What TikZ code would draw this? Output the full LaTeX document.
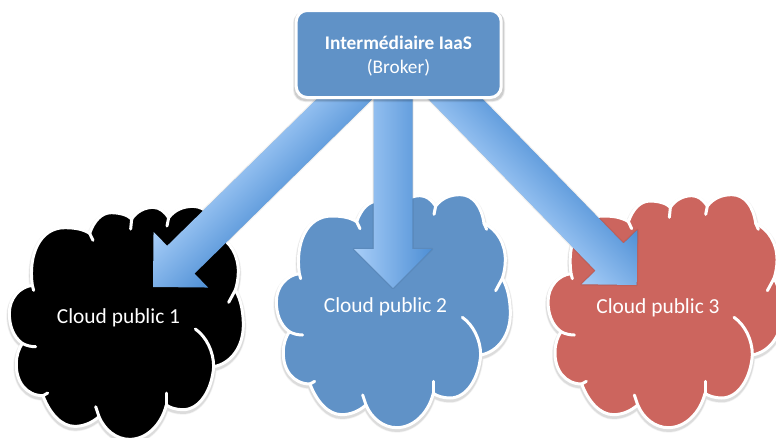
\documentclass[tikz,border=0pt]{standalone}
\usepackage{fontspec}
\setmainfont{Carlito}
\usetikzlibrary{calc}
\definecolor{bluefill}{HTML}{6092C7}
\definecolor{redfill}{HTML}{CC655E}
\definecolor{arrowlight}{HTML}{A8CEF8}
\definecolor{arrowdark}{HTML}{4E8FD5}
\def\cloudpath{(118,281)
 .. controls (105,190) and (140,108) .. (215,108)
 .. controls (245,108) and (270,112) .. (290,125)
 .. controls (303,88) and (325,63) .. (355,63)
 .. controls (380,63) and (405,70) .. (416,82)
 .. controls (430,60) and (455,47) .. (480,47)
 .. controls (500,47) and (515,60) .. (527,78)
 .. controls (545,55) and (570,44) .. (600,44)
 .. controls (640,44) and (665,80) .. (672,130)
 .. controls (712,150) and (736,190) .. (736,240)
 .. controls (736,260) and (732,280) .. (727,295)
 .. controls (745,325) and (751,365) .. (751,400)
 .. controls (751,465) and (715,515) .. (662,525)
 .. controls (657,595) and (620,654) .. (570,654)
 .. controls (550,654) and (530,648) .. (520,640)
 .. controls (505,700) and (460,743) .. (410,743)
 .. controls (370,743) and (335,715) .. (318,675)
 .. controls (295,695) and (270,704) .. (245,704)
 .. controls (205,704) and (170,665) .. (150,612)
 .. controls (100,612) and (68,570) .. (70,515)
 .. controls (70,490) and (78,470) .. (88,455)
 .. controls (60,435) and (49,400) .. (49,365)
 .. controls (49,320) and (80,285) .. (118,281) -- cycle}
\newcommand{\cloudshape}[2]{%
 \begin{scope}[shift={#1},x=0.33333pt,y=-0.33333pt]
  \begin{scope}[yshift=-2pt]
   \draw[black,opacity=.05,line width=6pt,line join=round] \cloudpath;
   \draw[black,opacity=.09,line width=4.5pt,line join=round] \cloudpath;
  \end{scope}
  \fill[#2] \cloudpath;
  \draw[cloudline] \cloudpath;
  \draw[cloudline] (118,281) -- (122,296);
  \draw[cloudline] (290,125) -- (300,146);
  \draw[cloudline] (416,82) -- (413,112);
  \draw[cloudline] (527,78) -- (522,103);
  \draw[cloudline] (672,130) -- (680,148);
  \draw[cloudline] (727,295) -- (707,332);
  \draw[cloudline] (607,412) .. controls (640,435) and (662,480) .. (662,525);
  \draw[cloudline] (520,640) -- (520,604);
  \draw[cloudline] (318,675) -- (308,645);
  \draw[cloudline] (150,612) -- (164,604);
  \draw[cloudline] (88,455) .. controls (100,462) and (115,465) .. (128,465);
 \end{scope}}
\def\arrowshape{(0,0) -- (39pt,39pt) -- (39pt,19.5pt) -- (\arrlen,19.5pt) -- (\arrlen,-19.5pt) -- (39pt,-19.5pt) -- (39pt,-39pt) -- cycle}
\newcommand{\fatarrow}[2]{%
 \path let \p1=($(#1)-(#2)$), \n1={atan2(\y1,\x1)}, \n2={veclen(\x1,\y1)} in
  \pgfextra{\xdef\arrang{\n1}\xdef\arrlen{\n2}};
 \begin{scope}[yshift=-1.5pt,shift={(#2)},rotate=\arrang]
  \draw[black,opacity=.05,line width=2.5pt,line join=round] \arrowshape;
  \fill[black,opacity=.22] \arrowshape;
 \end{scope}
 \begin{scope}[transform canvas={shift={(#2)},rotate=\arrang}]
  \path[top color=arrowlight,bottom color=arrowdark,middle color=arrowlight!50!arrowdark] \arrowshape;
 \end{scope}}
\tikzset{
 cloudline/.style={draw=white,line width=3pt,line cap=round,line join=round},
 cloudtext/.style={text=white,font=\fontsize{21.4}{25}\selectfont,inner sep=0pt},
 brokerbox/.style={fill=bluefill,draw=white,line width=3pt,rounded corners=11pt,minimum width=205pt,minimum height=87pt,inner sep=0pt}
}
\begin{document}
\begin{tikzpicture}[x=1pt,y=-1pt]
\useasboundingbox (0,0) rectangle (776,437);
\clip (0,0) rectangle (776,437);
\fill[white] (0,0) rectangle (776,437);
\cloudshape{(-7,191.7)}{black}
\cloudshape{(260,180)}{bluefill}
\cloudshape{(531.7,180)}{redfill}
\node[cloudtext] (cloud1) at (118.5,318) {Cloud public 1};
\node[cloudtext] (cloud2) at (385.5,307) {Cloud public 2};
\node[cloudtext] (cloud3) at (658,308) {Cloud public 3};
\coordinate (s1) at (364,80);
\coordinate (t1) at (153,287);
\coordinate (s2) at (393,80);
\coordinate (t2) at (393,288);
\coordinate (s3) at (437,80);
\coordinate (t3) at (636.7,285);
\fatarrow{s1}{t1}
\fatarrow{s2}{t2}
\fatarrow{s3}{t3}
\fill[black,opacity=.08,rounded corners=12pt] (293,11) rectangle (505,102);
\fill[black,opacity=.12,rounded corners=11pt] (294,11) rectangle (504,101);
\node[brokerbox] (broker) at (398.7,54) {};
\node[text=white,inner sep=0pt,align=center,font=\fontsize{19.3}{24}\selectfont] (brokertext) at (398.5,56.5) {\textbf{Intermédiaire IaaS}\\(Broker)};
\end{tikzpicture}
\end{document}
